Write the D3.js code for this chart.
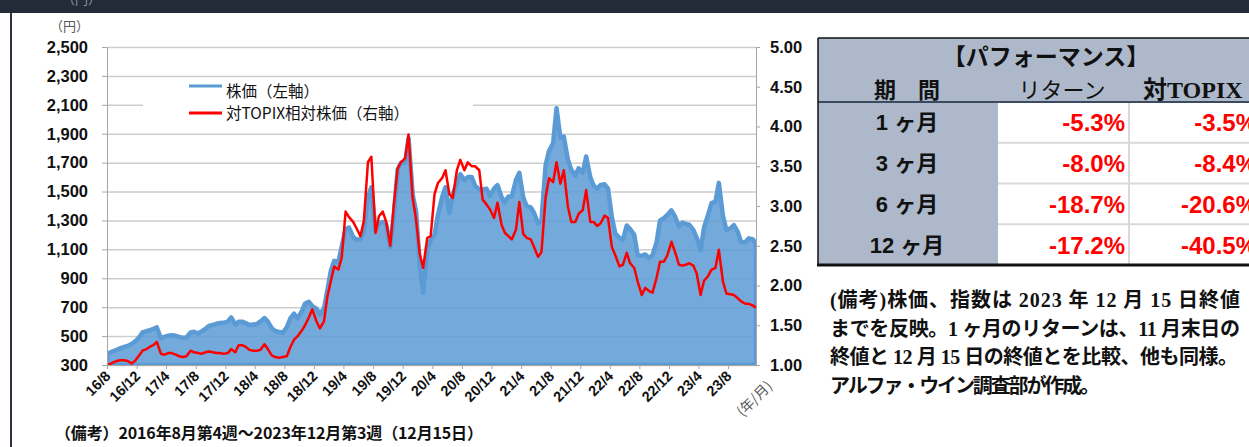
<!DOCTYPE html>
<html>
<head>
<meta charset="utf-8">
<script src="https://cdn.jsdelivr.net/npm/d3@7"></script>
<style>
  body { margin: 0; background: #fff; }
  svg { display: block; }
</style>
</head>
<body>
<div id="chart"></div>
<script>
// semi-monthly readings (1st and 15th of each month); 2016 starts with 8/22
const price2016 = [376, 385, 395, 405, 415, 425, 432, 445, 462];
const price2017 = [490, 525, 535, 541, 550, 560, 484, 495, 502, 506, 502, 495, 488, 490, 525, 530, 518, 532, 550, 570, 578, 585, 590, 592];
const price2018 = [600, 629, 580, 600, 600, 590, 576, 580, 583, 600, 625, 600, 555, 535, 528, 523, 560, 620, 655, 622, 670, 725, 737, 707];
const price2019 = [690, 650, 690, 817, 950, 1020, 1010, 1120, 1240, 1250, 1186, 1168, 1170, 1230, 1460, 1530, 1232, 1280, 1290, 1275, 1116, 1330, 1651, 1700];
const price2020 = [1700, 1870, 1480, 1360, 1000, 800, 1100, 1165, 1200, 1340, 1460, 1530, 1350, 1480, 1560, 1620, 1580, 1600, 1600, 1540, 1515, 1515, 1520, 1470];
const price2021 = [1520, 1545, 1460, 1425, 1466, 1466, 1580, 1630, 1460, 1400, 1390, 1350, 1280, 1300, 1680, 1780, 1834, 2077, 1870, 1880, 1720, 1650, 1610, 1661];
const price2022 = [1630, 1742, 1600, 1540, 1520, 1546, 1550, 1520, 1320, 1210, 1180, 1165, 1265, 1240, 1200, 1060, 1055, 1065, 1040, 1060, 1150, 1300, 1316, 1338];
const price2023 = [1370, 1330, 1258, 1285, 1275, 1270, 1235, 1180, 1095, 1250, 1340, 1420, 1430, 1560, 1330, 1235, 1245, 1268, 1220, 1150, 1150, 1176, 1170, 1142];

const rel2016 = [1.00, 1.01, 1.03, 1.05, 1.06, 1.06, 1.05, 1.02, 1.05];
const rel2017 = [1.12, 1.18, 1.20, 1.23, 1.25, 1.29, 1.14, 1.13, 1.15, 1.15, 1.13, 1.11, 1.10, 1.11, 1.18, 1.16, 1.15, 1.14, 1.16, 1.17, 1.16, 1.15, 1.15, 1.14];
const rel2018 = [1.15, 1.20, 1.16, 1.25, 1.25, 1.23, 1.19, 1.18, 1.18, 1.19, 1.26, 1.20, 1.12, 1.10, 1.09, 1.10, 1.11, 1.22, 1.32, 1.36, 1.43, 1.50, 1.60, 1.70];
const rel2019 = [1.55, 1.46, 1.55, 1.86, 2.05, 2.24, 2.20, 2.35, 2.93, 2.86, 2.80, 2.72, 2.62, 2.81, 3.55, 3.62, 2.66, 2.87, 2.93, 2.80, 2.50, 3.00, 3.47, 3.55];
const rel2020 = [3.60, 3.90, 3.10, 2.83, 2.40, 2.22, 2.60, 2.62, 3.15, 3.29, 3.35, 3.45, 3.15, 3.10, 3.45, 3.58, 3.45, 3.55, 3.50, 3.50, 3.45, 3.08, 3.02, 2.96];
const rel2021 = [2.85, 3.04, 2.76, 2.66, 2.62, 2.58, 2.70, 3.05, 2.65, 2.60, 2.58, 2.48, 2.36, 2.42, 3.10, 3.35, 3.30, 3.55, 3.28, 3.45, 2.99, 2.80, 2.80, 2.90];
const rel2022 = [2.95, 3.20, 2.80, 2.80, 2.75, 2.78, 2.88, 2.85, 2.48, 2.38, 2.24, 2.26, 2.41, 2.28, 2.22, 2.05, 1.88, 1.97, 1.93, 1.91, 2.10, 2.30, 2.30, 2.38];
const rel2023 = [2.55, 2.43, 2.26, 2.25, 2.26, 2.28, 2.25, 2.15, 1.88, 2.06, 2.12, 2.20, 2.22, 2.45, 2.05, 1.90, 1.89, 1.88, 1.84, 1.80, 1.77, 1.77, 1.75, 1.72];

const xTickLabels = ['16/8', '16/12', '17/4', '17/8', '17/12', '18/4', '18/8', '18/12', '19/4', '19/8', '19/12',
   '20/4', '20/8', '20/12', '21/4', '21/8', '21/12', '22/4', '22/8', '22/12', '23/4', '23/8'];
const leftTicks = [300, 500, 700, 900, 1100, 1300, 1500, 1700, 1900, 2100, 2300, 2500];
const rightTicks = [1.00, 1.50, 2.00, 2.50, 3.00, 3.50, 4.00, 4.50, 5.00];

const perfPeriods = ['1 ヶ月', '3 ヶ月', '6 ヶ月', '12 ヶ月'];
const perfReturn = ['-5.3%', '-8.0%', '-18.7%', '-17.2%'];
const perfVsTopix = ['-3.5%', '-8.4%', '-20.6%', '-40.5%'];

const notes = [
   '(備考)株価、指数は 2023 年 12 月 15 日終値',
   'までを反映。1 ヶ月のリターンは、11 月末日の',
   '終値と 12 月 15 日の終値とを比較、他も同様。',
   'アルファ・ウイン調査部が作成。'
];

const width = 1249, height = 447,
   plot = {left: 107, right: 756, top: 47, bottom: 365},
   numFont = '"Liberation Sans", Arial, sans-serif',
   jpFont = '"Noto Sans CJK JP", sans-serif';

const years = [2016, 2017, 2018, 2019, 2020, 2021, 2022, 2023],
   priceByYear = [price2016, price2017, price2018, price2019, price2020, price2021, price2022, price2023],
   relByYear = [rel2016, rel2017, rel2018, rel2019, rel2020, rel2021, rel2022, rel2023],
   startDate = new Date(2016, 7, 22),
   endDate = new Date(2023, 11, 15);

const data = [];
years.forEach((y, yi) => {
   const p = priceByYear[yi], r = relByYear[yi];
   let i0 = 0, m0 = 0;
   if (y === 2016) {
      data.push({date: startDate, price: p[0], rel: r[0]});
      i0 = 1; m0 = 8;
   }
   for (let i = i0; i < p.length; i++) {
      const j = i - i0;
      data.push({date: new Date(y, m0 + Math.floor(j / 2), j % 2 ? 15 : 1), price: p[i], rel: r[i]});
   }
});

const svg = d3.select('#chart').append('svg')
   .attr('width', width)
   .attr('height', height)
   .attr('viewBox', [0, 0, width, height]);

// frame pieces from the page
svg.append('rect').attr('x', 0).attr('y', 0).attr('width', width).attr('height', 13).attr('fill', '#232a38');
svg.append('text').attr('x', 62).attr('y', 4).attr('font-family', jpFont).attr('font-size', 13)
   .attr('fill', '#8a93a3').text('（円）');
svg.append('rect').attr('x', 10).attr('y', 13).attr('width', 2).attr('height', height - 13).attr('fill', '#2b3340');

const x = d3.scaleTime().domain([startDate, endDate]).range([plot.left, plot.right]);
const yL = d3.scaleLinear().domain([300, 2500]).range([plot.bottom, plot.top]);
const yR = d3.scaleLinear().domain([1, 5]).range([plot.bottom, plot.top]);

// gridlines
svg.append('g')
   .attr('transform', `translate(${plot.left},0)`)
   .call(d3.axisLeft(yL).tickValues(leftTicks).tickSize(-(plot.right - plot.left)).tickFormat(''))
   .call(g => g.select('.domain').remove())
   .call(g => g.selectAll('line').attr('stroke', '#cdcdcd').attr('stroke-width', 1.5));

// price area
svg.append('clipPath').attr('id', 'plotclip')
   .append('rect').attr('x', plot.left).attr('y', 0).attr('width', plot.right - plot.left).attr('height', plot.bottom);

const area = d3.area()
   .x(d => x(d.date))
   .y0(yL(300))
   .y1(d => yL(d.price));

svg.append('path')
   .datum(data)
   .attr('d', area)
   .attr('clip-path', 'url(#plotclip)')
   .attr('fill', '#5b9bd5')
   .attr('fill-opacity', 0.85)
   .attr('stroke', '#5b9bd5')
   .attr('stroke-width', 4.5)
   .attr('stroke-linejoin', 'round');

// relative line
const relLine = d3.line()
   .x(d => x(d.date))
   .y(d => yR(d.rel));

svg.append('path')
   .datum(data)
   .attr('d', relLine)
   .attr('fill', 'none')
   .attr('stroke', '#ff0000')
   .attr('stroke-width', 2.5)
   .attr('stroke-linejoin', 'round');

// axes
const axisColor = '#a6a6a6';
const styleAxis = g => {
   g.select('.domain').attr('stroke', axisColor);
   g.selectAll('.tick line').attr('stroke', axisColor);
   g.selectAll('text').attr('font-family', numFont).attr('font-weight', 'bold').attr('fill', '#111');
};

svg.append('g')
   .attr('transform', `translate(${plot.left},0)`)
   .call(d3.axisLeft(yL).tickValues(leftTicks).tickFormat(d3.format(',')).tickSize(5).tickSizeOuter(0).tickPadding(14))
   .call(styleAxis)
   .call(g => g.selectAll('text').attr('font-size', 16.5));

svg.append('g')
   .attr('transform', `translate(${plot.right},0)`)
   .call(d3.axisRight(yR).tickValues(rightTicks).tickFormat(d3.format('.2f')).tickSize(4).tickSizeOuter(0).tickPadding(10))
   .call(styleAxis)
   .call(g => g.selectAll('text').attr('font-size', 16.5));

const tickDates = xTickLabels.map(s => {
   const [yy, mm] = s.split('/').map(Number);
   return new Date(2000 + yy, mm - 1, 22);
});

svg.append('g')
   .attr('transform', `translate(0,${plot.bottom})`)
   .call(d3.axisBottom(x).tickValues(tickDates).tickFormat((d, i) => xTickLabels[i]).tickSize(4).tickSizeOuter(0))
   .call(styleAxis)
   .call(g => g.selectAll('text')
      .attr('font-size', 14.5)
      .attr('text-anchor', 'end')
      .attr('dy', 0)
      .attr('y', 0)
      .attr('transform', 'translate(4,12) rotate(-45)'));

svg.append('text')
   .attr('transform', `translate(773,387) rotate(-45)`)
   .attr('text-anchor', 'end')
   .attr('font-family', jpFont)
   .attr('font-size', 14)
   .attr('fill', '#595959')
   .text('(年/月)');

svg.append('text')
   .attr('x', 50).attr('y', 31)
   .attr('font-family', jpFont).attr('font-size', 13).attr('fill', '#595959')
   .text('（円）');

// legend
const legend = svg.append('g');
legend.append('rect').attr('x', 143).attr('y', 80).attr('width', 330).attr('height', 46).attr('fill', '#fff');
const legendItems = [
   {label: '株価（左軸）', color: '#5b9bd5', y: 86, ty: 97},
   {label: '対TOPIX相対株価（右軸）', color: '#ff0000', y: 113, ty: 119}
];
legend.selectAll('line').data(legendItems).join('line')
   .attr('x1', 189).attr('x2', 222)
   .attr('y1', d => d.y).attr('y2', d => d.y)
   .attr('stroke', d => d.color).attr('stroke-width', 3);
legend.selectAll('text').data(legendItems).join('text')
   .attr('x', 226).attr('y', d => d.ty)
   .attr('font-family', jpFont).attr('font-size', 15.5).attr('fill', '#111')
   .text(d => d.label);

// bottom note
svg.append('text')
   .attr('x', 55).attr('y', 439)
   .attr('font-family', jpFont).attr('font-size', 16).attr('font-weight', 'bold').attr('fill', '#111')
   .attr('textLength', 428).attr('lengthAdjust', 'spacing')
   .text('（備考）2016年8月第4週～2023年12月第3週（12月15日）');

// performance table
const tbl = {x: 818, top: 38, headBottom: 102, right: 1262, col1: 998, col2: 1129, rowH: 40.75},
   headFill = '#adb9ca';
const table = svg.append('g');
table.append('rect').attr('x', tbl.x).attr('y', tbl.top).attr('width', tbl.right - tbl.x).attr('height', tbl.headBottom - tbl.top).attr('fill', headFill);
table.append('rect').attr('x', tbl.x).attr('y', tbl.headBottom).attr('width', tbl.col1 - tbl.x).attr('height', 4 * tbl.rowH).attr('fill', headFill);
table.append('rect').attr('x', tbl.col1).attr('y', tbl.headBottom).attr('width', tbl.right - tbl.col1).attr('height', 4 * tbl.rowH).attr('fill', '#fff');

const rowY = i => tbl.headBottom + i * tbl.rowH;
table.selectAll('.hline').data([1, 2, 3]).join('line')
   .attr('x1', tbl.col1).attr('x2', tbl.right)
   .attr('y1', d => rowY(d)).attr('y2', d => rowY(d))
   .attr('stroke', '#d9d9d9').attr('stroke-width', 2);
table.append('line').attr('x1', tbl.col2).attr('x2', tbl.col2).attr('y1', tbl.headBottom).attr('y2', rowY(4))
   .attr('stroke', '#d9d9d9').attr('stroke-width', 2);
table.append('line').attr('x1', tbl.x).attr('x2', tbl.right).attr('y1', tbl.headBottom).attr('y2', tbl.headBottom)
   .attr('stroke', '#3b4a5e').attr('stroke-width', 2);
table.append('line').attr('x1', tbl.x).attr('x2', tbl.right).attr('y1', tbl.top).attr('y2', tbl.top)
   .attr('stroke', '#111').attr('stroke-width', 1.5);
table.append('line').attr('x1', tbl.x).attr('x2', tbl.x).attr('y1', tbl.top).attr('y2', rowY(4))
   .attr('stroke', '#111').attr('stroke-width', 1.5);
table.append('line').attr('x1', tbl.x - 1).attr('x2', tbl.right).attr('y1', rowY(4)).attr('y2', rowY(4))
   .attr('stroke', '#111').attr('stroke-width', 3);

table.append('text').attr('x', 1046).attr('y', 65).attr('text-anchor', 'middle')
   .attr('font-family', jpFont).attr('font-size', 23).attr('font-weight', 'bold').attr('fill', '#111')
   .text('【パフォーマンス】');
table.append('text').attr('x', 907).attr('y', 97.5).attr('text-anchor', 'middle')
   .attr('font-family', jpFont).attr('font-size', 22).attr('font-weight', 'bold').attr('fill', '#111')
   .text('期　間');
table.append('text').attr('x', 1062).attr('y', 97.5).attr('text-anchor', 'middle')
   .attr('font-family', jpFont).attr('font-size', 22).attr('fill', '#111')
   .text('リターン');
table.append('text').attr('x', 1143).attr('y', 97.5)
   .attr('font-family', '"Liberation Serif", "Noto Sans CJK JP", serif').attr('font-size', 24).attr('font-weight', 'bold').attr('fill', '#111')
   .text('対TOPIX');

table.selectAll('.period').data(perfPeriods).join('text')
   .attr('x', 907).attr('y', (d, i) => rowY(i) + tbl.rowH / 2 + 8)
   .attr('text-anchor', 'middle')
   .attr('font-family', `${numFont.split(',')[0]}, "Noto Sans CJK JP", sans-serif`)
   .attr('font-size', 22).attr('font-weight', 'bold').attr('fill', '#111')
   .text(d => d);

table.selectAll('.ret').data(perfReturn).join('text')
   .attr('x', 1125).attr('y', (d, i) => rowY(i) + tbl.rowH / 2 + 9)
   .attr('text-anchor', 'end')
   .attr('font-family', numFont).attr('font-size', 24).attr('font-weight', 'bold').attr('fill', '#ff0000')
   .text(d => d);

table.selectAll('.vs').data(perfVsTopix).join('text')
   .attr('x', 1257).attr('y', (d, i) => rowY(i) + tbl.rowH / 2 + 9)
   .attr('text-anchor', 'end')
   .attr('font-family', numFont).attr('font-size', 24).attr('font-weight', 'bold').attr('fill', '#ff0000')
   .text(d => d);

// side notes
const noteWidths = [410, 410, 408, 270];
svg.selectAll('.note').data(notes).join('text')
   .attr('x', 830).attr('y', (d, i) => 307 + i * 28.5)
   .attr('font-family', '"Liberation Serif", "Noto Sans CJK JP", serif')
   .attr('font-size', 20).attr('font-weight', 'bold').attr('fill', '#111')
   .attr('textLength', (d, i) => noteWidths[i]).attr('lengthAdjust', 'spacing')
   .text(d => d);
</script>
</body>
</html>
